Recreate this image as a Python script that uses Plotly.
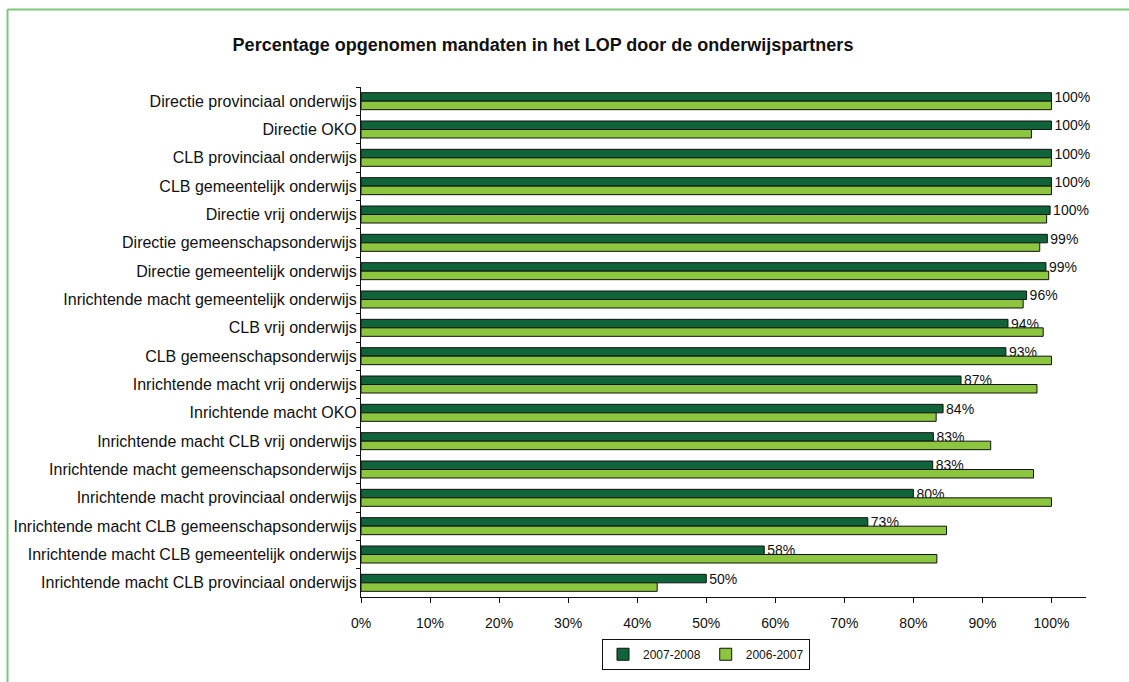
import plotly.graph_objects as go

categories = [
    "Directie provinciaal onderwijs",
    "Directie OKO",
    "CLB provinciaal onderwijs",
    "CLB gemeentelijk onderwijs",
    "Directie vrij onderwijs",
    "Directie gemeenschapsonderwijs",
    "Directie gemeentelijk onderwijs",
    "Inrichtende macht gemeentelijk onderwijs",
    "CLB vrij onderwijs",
    "CLB gemeenschapsonderwijs",
    "Inrichtende macht vrij onderwijs",
    "Inrichtende macht OKO",
    "Inrichtende macht CLB vrij onderwijs",
    "Inrichtende macht gemeenschapsonderwijs",
    "Inrichtende macht provinciaal onderwijs",
    "Inrichtende macht CLB gemeenschapsonderwijs",
    "Inrichtende macht CLB gemeentelijk onderwijs",
    "Inrichtende macht CLB provinciaal onderwijs",
]
values_2007_2008 = [100, 100, 100, 100, 99.8, 99.4, 99.2, 96.4, 93.7, 93.4,
                    86.9, 84.3, 82.9, 82.8, 80.0, 73.4, 58.4, 50.0]
values_2006_2007 = [100, 97.1, 100, 100, 99.3, 98.3, 99.6, 95.9, 98.8, 100,
                    97.9, 83.3, 91.2, 97.4, 100, 84.8, 83.4, 42.9]
series_names = ["2007-2008", "2006-2007"]
x_ticks = [0, 10, 20, 30, 40, 50, 60, 70, 80, 90, 100]

DARK = "#10643a"
LIGHT = "#8cc63f"
FONT = "Liberation Sans, Arial, sans-serif"

fig = go.Figure()
fig.add_trace(go.Bar(
    y=categories, x=values_2007_2008, name=series_names[0], orientation="h",
    marker=dict(color=DARK, line=dict(color="#111111", width=1)),
    texttemplate="%{x:.0f}%", textposition="outside", constraintext="none",
    textfont=dict(family=FONT, size=14, color="#111111"),
    cliponaxis=False,
))
fig.add_trace(go.Bar(
    y=categories, x=values_2006_2007, name=series_names[1], orientation="h",
    marker=dict(color=LIGHT, line=dict(color="#111111", width=1)),
))

L, R, T, B = 361, 1129 - 1086, 87, 682 - 600
pw, ph = 1129 - L - R, 682 - T - B

def px2x(px):
    return (px - L) / pw

def py2y(py):
    return (682 - B - py) / ph

fig.update_layout(
    width=1129, height=682,
    margin=dict(l=L, r=R, t=T, b=B),
    paper_bgcolor="white", plot_bgcolor="white",
    font=dict(family=FONT, size=16, color="#111111"),
    barmode="group", bargap=0.4, bargroupgap=0.0,
    showlegend=True,
    title=dict(
        text="<b>Percentage opgenomen mandaten in het LOP door de onderwijspartners</b>",
        x=543 / 1129, xanchor="center", xref="container",
        y=1 - 45 / 682, yanchor="middle", yref="container",
        font=dict(family=FONT, size=18, color="#111111"),
    ),
    legend=dict(
        orientation="h", x=px2x(706), xanchor="center", y=py2y(642), yanchor="top",
        bordercolor="#111111", borderwidth=1, font=dict(family=FONT, size=12),
        traceorder="normal", itemwidth=30, tracegroupgap=0,
    ),
    xaxis=dict(
        range=[0, 105], tickvals=x_ticks, ticktext=[f"{v}%" for v in x_ticks],
        showgrid=False, zeroline=False, showline=True, linecolor="#111111", linewidth=1,
        ticks="outside", ticklen=5, tickcolor="#111111", ticklabelstandoff=8,
        tickfont=dict(family=FONT, size=14),
    ),
    yaxis=dict(
        autorange="reversed", showgrid=False, showline=True, linecolor="#111111", linewidth=1,
        ticks="outside", ticklen=4, tickcolor="#111111", tickson="boundaries",
        tickfont=dict(family=FONT, size=16),
    ),
    shapes=[
        dict(type="line", xref="paper", yref="paper",
             x0=px2x(7.5), x1=px2x(1140), y0=py2y(9), y1=py2y(9),
             line=dict(color="#7cc87c", width=2)),
        dict(type="line", xref="paper", yref="paper",
             x0=px2x(7.5), x1=px2x(7.5), y0=py2y(9), y1=py2y(700),
             line=dict(color="#7cc87c", width=2)),
    ],
)

fig.write_html("out.html", config={"displayModeBar": False},
               post_script="document.body.style.margin='0px';")
